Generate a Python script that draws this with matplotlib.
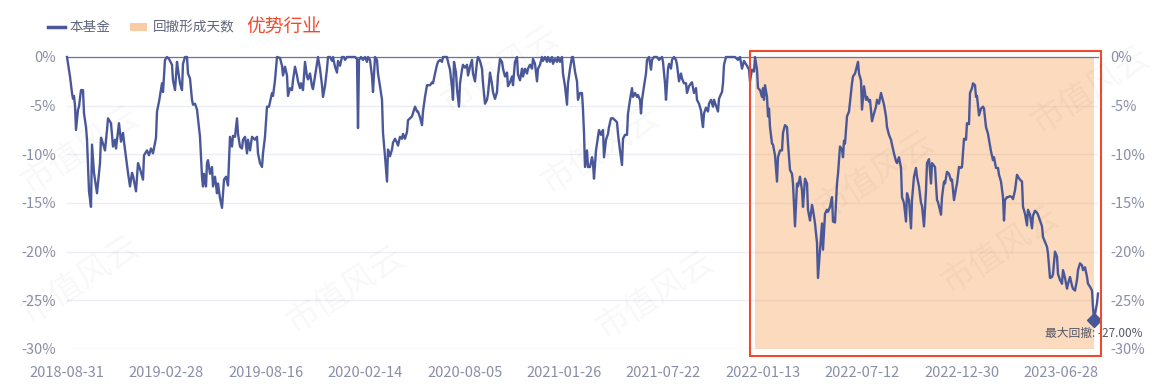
import matplotlib
matplotlib.use('Agg')
import matplotlib.pyplot as plt
from matplotlib.patches import Rectangle
from matplotlib.lines import Line2D

plt.rcParams['font.family'] = ['Noto Sans CJK SC', 'DejaVu Sans']

# ---------------- data ----------------
days = [0, 3, 5, 6, 7, 8, 9, 10, 11, 12, 14, 16, 17, 19, 20, 21, 22, 24, 25, 27, 30, 33, 34, 36, 38, 40, 41, 44, 46, 48,
        49, 52, 54, 56, 57, 61, 63, 65, 66, 69, 71, 73, 76, 77, 80, 82, 84, 86, 89, 90, 92, 95, 96, 98, 100, 102, 105, 106, 108, 110,
        111, 113, 115, 116, 118, 120, 121, 123, 125, 126, 128, 130, 131, 133, 135, 136, 137, 139, 140, 141, 143, 145, 146, 148, 150, 151, 153, 155, 157, 159,
        161, 163, 165, 166, 168, 170, 171, 173, 175, 176, 178, 180, 181, 183, 185, 188, 190, 191, 193, 195, 196, 198, 200, 202, 205, 206, 208, 210, 213, 215,
        216, 218, 220, 221, 223, 225, 226, 228, 230, 231, 233, 234, 236, 238, 240, 241, 243, 245, 246, 248, 250, 251, 253, 255, 256, 258, 260, 261, 263, 265,
        266, 268, 270, 271, 273, 275, 277, 278, 280, 281, 283, 285, 288, 290, 291, 292, 294, 296, 298, 300, 301, 303, 305, 306, 308, 310, 311, 313, 315, 316,
        318, 320, 321, 323, 325, 326, 328, 330, 331, 333, 335, 336, 338, 340, 341, 343, 345, 348, 350, 351, 353, 355, 356, 358, 360, 361, 363, 365, 366, 368,
        370, 371, 373, 375, 376, 378, 380, 381, 383, 385, 386, 387, 389, 390, 392, 393, 395, 396, 398, 400, 401, 403, 405, 406, 408, 410, 411, 413, 415, 416,
        418, 420, 421, 423, 425, 426, 428, 430, 431, 433, 435, 436, 438, 440, 441, 443, 445, 446, 448, 450, 451, 453, 455, 456, 458, 460, 461, 463, 465, 466,
        468, 470, 471, 473, 475, 476, 478, 480, 481, 483, 485, 486, 488, 490, 491, 493, 495, 496, 498, 500, 501, 503, 505, 506, 508, 510, 511, 513, 515, 516,
        517, 518, 520, 521, 523, 525, 526, 527, 529, 531, 532, 534, 536, 537, 539, 541, 542, 544, 546, 548, 550, 551, 553, 555, 556, 558, 560, 561, 563, 565,
        566, 568, 570, 571, 573, 574, 575, 577, 579, 580, 582, 584, 585, 587, 590, 592, 595, 596, 598, 599, 601, 602, 604, 605, 607, 609, 610, 612, 614, 615,
        617, 619, 620, 622, 624, 625, 627, 629, 630, 632, 634, 635, 636, 637, 639, 641, 642, 644, 646, 647, 649, 651, 652, 654, 655, 656, 657, 659, 663, 668,
        671, 673, 675, 677, 678, 680, 682, 683, 685, 687, 688, 690, 691, 693, 695, 696, 697, 698, 700, 701, 702, 703, 705, 706, 708, 710, 711, 713, 715, 716,
        718, 720, 721, 723, 725, 726, 728, 730, 731, 733, 735, 736, 738, 740, 741, 743, 745, 746, 748, 750, 751, 753, 755, 756, 758, 760, 761, 763, 765, 766,
        768, 770, 771, 773, 775, 776, 777, 778, 780, 782, 783, 785, 786, 788, 790, 791, 792, 794, 795, 797, 799, 800, 802, 803, 805, 807, 809, 810, 812, 814,
        815, 817, 819, 820, 822, 824, 825, 827, 829, 830, 832, 834, 835, 837, 839, 840, 842, 844, 845, 847, 849, 850, 852, 854, 855, 857, 859, 860, 862, 864,
        865, 868, 870, 871, 874, 875, 877, 878, 880, 882, 884, 885, 887, 889, 890, 892, 894, 895, 897, 899, 900, 902, 903, 905, 906, 908, 909, 910, 912, 914,
        916, 917, 919, 921, 922, 924, 926, 927, 929, 931, 932, 934, 936, 937, 938, 940, 941, 943, 945, 946, 948, 950, 951, 953, 955, 956, 958, 960, 961, 963,
        965, 966, 968, 970, 971, 973, 975, 976, 978, 980, 981, 983, 985, 986, 988, 990, 991, 993, 995, 996, 998, 1000, 1001, 1003, 1005, 1006, 1008, 1010, 1011, 1013,
        1015, 1016, 1018, 1020, 1021, 1023, 1025, 1026, 1027, 1030, 1031]

drawdown = [0, -2.0, -3.7, -4.3, -4.0, -5.0, -7.5, -6.4, -5.4, -5.1, -3.4, -3.4, -5.8, -7.2, -8.5, -11.3, -13.8, -15.4, -9.0, -11.9, -14.0, -10.9, -8.3, -8.9, -9.6, -7.5, -6.3, -6.8, -9.2, -8.5,
            -9.4, -6.8, -8.7, -7.8, -8.7, -11.9, -13.3, -11.9, -12.2, -13.8, -10.9, -11.5, -12.6, -10.1, -9.6, -10.1, -9.4, -9.9, -8.3, -5.6, -4.6, -2.7, -3.6, -0.3, 0, -0.2, -0.8, -2.4, -3.4, -0.5,
            -1.3, -2.7, -3.4, -0.7, 0, 0, -1.7, -2.2, -4.4, -4.9, -4.8, -5.4, -6.3, -8.2, -12.3, -13.3, -12.0, -13.3, -10.9, -10.6, -12.0, -11.3, -13.3, -12.3, -14.0, -13.0, -14.5, -15.5, -12.6, -12.3,
            -13.2, -8.2, -9.2, -8.1, -8.2, -6.3, -7.9, -9.2, -9.4, -8.5, -8.2, -9.9, -8.5, -9.6, -8.2, -8.5, -8.2, -9.9, -10.9, -11.3, -9.9, -8.2, -5.1, -5.1, -3.7, -4.0, -2.4, 0, -0.1, -0.9,
            -1.9, -1.0, -1.9, -4.0, -3.2, -3.4, -2.4, -1.0, -1.9, -2.5, -3.2, -2.7, -3.4, -0.5, -2.0, -2.3, -1.7, -3.0, -3.3, -2.0, -0.7, 0, -1.2, -2.9, -4.1, -3.0, -1.2, 0, 0, -0.4,
            0, -1.0, -1.6, -0.4, -0.9, 0, 0, -0.3, 0, 0, 0, 0, 0, -0.2, -7.3, -0.3, 0, -0.3, 0, -0.5, 0, -0.3, -2.0, -3.6, 0, -0.3, -1.7, -3.0, -4.4, -7.8,
            -10.2, -12.8, -9.5, -10.2, -9.5, -8.8, -8.4, -8.8, -9.1, -8.2, -8.4, -7.9, -8.4, -7.7, -6.5, -6.3, -6.1, -5.1, -5.6, -5.6, -6.2, -7.0, -5.6, -4.1, -2.9, -2.9, -2.9, -2.6, -2.7, -1.7,
            -0.8, -0.5, -0.3, -0.5, 0, 0, 0, -0.5, -1.3, -3.1, -4.4, -0.5, -1.6, -3.3, -5.1, -2.7, -1.3, -0.8, -1.1, -0.8, -1.9, -1.0, -0.3, -1.7, -2.5, -0.5, 0, -0.4, -1.2, -2.7,
            -4.8, -4.4, -3.8, -1.6, -2.8, -3.6, -4.3, -3.6, -1.9, -0.2, -0.5, -1.2, -2.0, -1.6, -3.0, -2.6, -2.0, -2.9, -0.5, 0, -1.8, -2.4, -1.2, -2.0, -1.2, -1.7, -1.2, -0.8, -1.2, -0.2,
            -0.7, -2.5, -1.2, -0.8, 0, -0.4, 0, -0.5, 0, -0.5, 0, -0.7, -0.2, -0.5, 0, -0.5, 0, -1.7, -3.0, -4.9, -2.7, -1.2, 0, 0, -1.5, -2.5, -4.4, -3.7, -3.7, -5.4,
            -7.8, -11.3, -9.6, -11.3, -11.3, -10.3, -10.9, -12.5, -9.6, -8.2, -7.5, -8.0, -7.5, -10.3, -8.5, -7.9, -7.2, -6.3, -6.3, -6.5, -6.7, -7.9, -9.6, -11.1, -8.4, -8.0, -8.0, -5.8, -4.4, -3.2,
            -4.1, -3.7, -4.1, -3.9, -4.4, -5.8, -4.4, -3.0, -1.7, -0.3, 0, -1.3, -0.3, 0, 0, -0.3, 0, -0.5, -2.7, -4.4, -1.2, -0.7, -1.2, -0.3, 0, -0.3, -0.8, -2.5, -1.7, -2.2,
            -2.7, -2.7, -3.7, -3.0, -2.7, -2.6, -3.7, -3.2, -4.4, -4.8, -5.5, -6.5, -7.2, -5.8, -5.2, -5.6, -4.8, -4.4, -5.1, -4.4, -5.0, -5.6, -4.3, -3.8, -3.6, -2.7, -0.8, 0, 0, 0,
            -0.3, 0, -1.2, -0.4, -0.6, -0.9, -1.3, -2.5, -1.3, -1.5, 0, -1.3, -3.2, -3.4, -4.1, -3.2, -4.4, -2.9, -4.1, -6.1, -5.3, -7.2, -8.9, -9.0, -10.1, -12.8, -10.3, -9.6, -9.6, -7.8,
            -7.0, -7.2, -8.9, -11.6, -12.0, -13.0, -17.4, -13.0, -13.3, -12.3, -13.7, -15.4, -12.5, -13.0, -15.7, -16.8, -15.2, -15.7, -17.1, -19.1, -22.7, -19.8, -17.1, -19.8, -16.1, -15.7, -15.9, -15.4, -14.4, -16.9,
            -17.0, -13.0, -12.0, -9.2, -9.5, -10.3, -8.6, -8.9, -6.1, -5.6, -4.6, -2.7, -2.0, -1.7, -0.9, -0.5, -1.7, -2.4, -5.4, -3.0, -4.4, -4.1, -4.6, -4.4, -6.6, -5.8, -5.1, -4.4, -4.8, -3.7,
            -4.1, -4.9, -6.1, -7.2, -8.0, -8.5, -9.0, -9.9, -10.7, -10.9, -10.3, -11.4, -14.4, -15.0, -16.9, -14.0, -14.7, -17.6, -14.7, -12.3, -11.4, -12.3, -13.3, -15.0, -15.3, -17.4, -13.7, -10.9, -10.5, -13.0,
            -10.9, -11.3, -14.7, -14.9, -16.2, -14.4, -12.8, -13.0, -11.8, -12.0, -12.7, -12.6, -14.7, -13.5, -13.0, -11.3, -11.4, -11.3, -8.4, -8.5, -6.8, -6.9, -3.7, -3.2, -2.7, -2.9, -4.1, -4.0, -6.0, -5.3,
            -5.1, -5.3, -7.2, -7.9, -8.5, -9.7, -10.6, -10.3, -11.4, -11.4, -12.1, -12.8, -14.4, -16.8, -14.7, -14.4, -14.4, -14.3, -14.4, -14.6, -13.7, -12.1, -12.3, -12.6, -12.8, -15.4, -16.1, -17.3, -15.7, -16.2,
            -17.6, -16.3, -15.8, -16.0, -16.2, -16.8, -17.4, -18.5, -19.0, -19.5, -20.2, -22.7, -22.6, -22.3, -20.0, -20.5, -22.3, -22.9, -23.3, -21.9, -22.7, -23.8, -23.3, -22.6, -23.5, -23.8, -24.0, -22.9, -21.9, -21.2,
            -21.4, -21.9, -21.6, -22.6, -23.3, -23.6, -24.0, -25.7, -27.0, -25.3, -24.3]

tick_days = [0, 99, 199, 298, 398, 497, 596, 696, 795, 895, 994]
tick_labels = ['2018-08-31', '2019-02-28', '2019-08-16', '2020-02-14', '2020-08-05', '2021-01-26',
               '2021-07-22', '2022-01-13', '2022-07-12', '2022-12-30', '2023-06-28']
y_ticks = [0, -5, -10, -15, -20, -25, -30]
dd_start_day = 688
dd_end_day = 1027
max_dd = -27.00

legend_series = '本基金'
legend_area = '回撤形成天数'
title_red = '优势行业'
dd_label = '最大回撤: '

# ---------------- style ----------------
LINE = '#4a5899'
TICK = '#8a8ea8'
GRID = '#eceef5'
SHADE = '#f5a35a'
RED = '#f04a2c'
LEG_TXT = '#62667c'

W, H = 1154, 391
fig = plt.figure(figsize=(W / 100, H / 100), dpi=100)
ax = fig.add_axes([67 / W, (H - 349) / H, (1098 - 67) / W, (349 - 57) / H])
ax.set_xlim(0, days[-1])
ax.set_ylim(-30, 0)

for s in ax.spines.values():
    s.set_visible(False)

ax.set_yticks(y_ticks)
ax.set_yticklabels([f'{v}%' for v in y_ticks])
ax.yaxis.grid(True, color=GRID, lw=1.0, zorder=0)
ax.set_axisbelow(True)
ax.tick_params(axis='y', length=0, pad=8, labelsize=10.5, labelcolor=TICK)

ax.set_xticks(tick_days)
ax.set_xticklabels(tick_labels)
ax.tick_params(axis='x', length=0, pad=12, labelsize=10.5, labelcolor=TICK)

ax2 = ax.twinx()
ax2.set_ylim(-30, 0)
ax2.set_yticks(y_ticks)
ax2.set_yticklabels([f'{v}%' for v in y_ticks])
ax2.tick_params(axis='y', length=0, pad=9, labelsize=10.5, labelcolor=TICK)
for s in ax2.spines.values():
    s.set_visible(False)

# drawdown period area
ax.fill_between([dd_start_day, dd_end_day], [0, 0], [-30, -30], color=SHADE, alpha=0.4, lw=0, zorder=1)

# zero axis line
ax.axhline(0, color='#6e7399', lw=0.9, zorder=2, clip_on=False)

# series
ax.plot(days, drawdown, color=LINE, lw=1.7, zorder=3, clip_on=False, solid_joinstyle='round')

# max drawdown marker
ax.plot([dd_end_day], [max_dd], marker='D', ms=7, color=LINE, zorder=4, clip_on=False)
ax.annotate(f'{dd_label}{max_dd:.2f}%', xy=(dd_end_day, max_dd), xytext=(0, -10),
            textcoords='offset points', ha='center', va='center', fontsize=8.5,
            color='#555866', zorder=5, annotation_clip=False)

# red highlight frame
ax.add_patch(Rectangle((683, -30.73), 1034 - 683, 31.35, fill=False, edgecolor=RED, lw=1.5,
                       clip_on=False, zorder=6))

# legend
yl = 1 - 27 / H
fig.add_artist(Line2D([48 / W, 65 / W], [yl, yl], color=LINE, lw=2.5))
fig.text(70 / W, yl, legend_series, fontsize=9.8, color=LEG_TXT, va='center', ha='left')
fig.add_artist(Rectangle((130 / W, yl - 4 / H), 17 / W, 8 / H, color=SHADE, alpha=0.55, lw=0))
fig.text(153 / W, yl, legend_area, fontsize=9.8, color=LEG_TXT, va='center', ha='left')
fig.text(246 / W, yl + 1 / H, title_red, fontsize=13.5, color=RED, va='center', ha='left')

# watermark
for (wx, wy) in [(500, 70), (600, 150), (345, 290), (655, 295), (875, 175), (1000, 250), (80, 280), (80, 150), (1090, 90)]:
    fig.text(wx / W, 1 - wy / H, '市值风云', fontsize=24, color='#000000', alpha=0.03,
             rotation=33, ha='center', va='center')

fig.savefig('out.png', dpi=100)
